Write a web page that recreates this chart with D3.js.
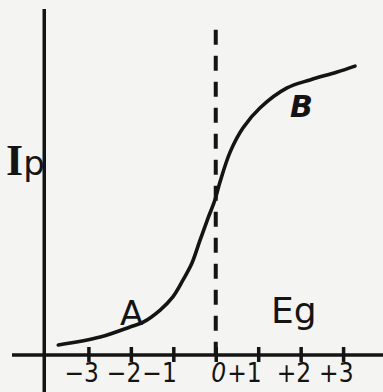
<!DOCTYPE html>
<html>
<head>
<meta charset="utf-8">
<script src="https://cdn.jsdelivr.net/npm/d3@7"></script>
<style>
  html, body { margin: 0; padding: 0; background: #f4f4f2; }
  svg { display: block; }
</style>
</head>
<body>
<svg id="chart" width="383" height="392"></svg>
<script>
// ---- data ----
const egTicks = [-3, -2, -1, 0, 1, 2, 3];
const tickLabels = ["\u22123", "\u22122", "\u22121", "0", "+1", "+2", "+3"];
const curveEg = [-3.71, -2.72, -2.02, -1.71, -1.31, -1.01, -0.77, -0.56, -0.37, -0.18, -0.02, 0.10, 0.34, 0.64, 1.04, 1.68, 2.22, 2.86, 3.28];
const curveIp = [0.29, 0.52, 0.81, 0.95, 1.30, 1.68, 2.17, 2.66, 3.32, 3.96, 4.48, 5.00, 5.87, 6.56, 7.14, 7.72, 7.95, 8.18, 8.35];
const egDomain = [-4.8, 3.94];
const ipDomain = [0, 10];
const yAxisEg = -4.04;
const yAxisBottomIp = -1.07;
const dashTopIp = 9.4;
const regionLabels = ["A", "B"];
const axisTitles = ["Ip", "Eg"];

// ---- scales ----
const x = d3.scaleLinear().domain(egDomain).range([12, 383]);
const y = d3.scaleLinear().domain(ipDomain).range([355, 9]);

const svg = d3.select("#chart");
const ink = "#141414";

// x axis line
svg.append("line")
  .attr("x1", x(egDomain[0])).attr("x2", x(egDomain[1]))
  .attr("y1", y(0)).attr("y2", y(0))
  .attr("stroke", ink).attr("stroke-width", 3.5);

// y axis line
svg.append("line")
  .attr("x1", x(yAxisEg)).attr("x2", x(yAxisEg))
  .attr("y1", y(ipDomain[1])).attr("y2", y(yAxisBottomIp))
  .attr("stroke", ink).attr("stroke-width", 3.5);

// ticks via d3 axis
const xAxis = d3.axisBottom(x).tickValues(egTicks).tickSize(7).tickFormat((d, i) => tickLabels[i]);
const gx = svg.append("g").attr("transform", `translate(0,${y(0)})`).call(xAxis);
gx.select(".domain").remove();
gx.selectAll(".tick line")
  .attr("y1", -8).attr("y2", 7)
  .attr("stroke", ink).attr("stroke-width", 3.5);
gx.selectAll(".tick text")
  .attr("y", 27).attr("dy", 0)
  .attr("text-anchor", "end")
  .attr("dx", (d) => (Math.abs(d) === 1 ? 3 : 10))
  .attr("fill", ink)
  .style("font-family", "'DejaVu Sans Condensed', 'DejaVu Sans', sans-serif")
  .style("font-size", "26px")
  .style("font-style", (d) => d === 0 ? "italic" : "normal");

// dashed vertical line at Eg = 0
svg.append("line")
  .attr("x1", x(0)).attr("x2", x(0))
  .attr("y1", y(dashTopIp)).attr("y2", y(0))
  .attr("stroke", ink).attr("stroke-width", 4)
  .attr("stroke-dasharray", "15,11");

// characteristic curve
const pts = curveEg.map((e, i) => [e, curveIp[i]]);
const line = d3.line().x(d => x(d[0])).y(d => y(d[1])).curve(d3.curveCatmullRom.alpha(0.5));
svg.append("path")
  .attr("d", line(pts))
  .attr("fill", "none")
  .attr("stroke", ink).attr("stroke-width", 3.6)
  .attr("stroke-linecap", "round");

// labels
svg.append("text").text(regionLabels[0])
  .attr("x", 120).attr("y", 325)
  .attr("fill", ink)
  .style("font-family", "'DejaVu Sans', sans-serif")
  .style("font-size", "34px");

svg.append("text").text(regionLabels[1])
  .attr("x", 290).attr("y", 117)
  .attr("fill", ink)
  .style("font-family", "'DejaVu Sans', sans-serif")
  .style("font-size", "30px").style("font-weight", "bold").style("font-style", "italic");

svg.append("text").text(axisTitles[1])
  .attr("x", 271).attr("y", 323)
  .attr("fill", ink)
  .style("font-family", "'DejaVu Sans', sans-serif")
  .style("font-size", "36px");

const ip = svg.append("text").attr("x", 6).attr("y", 175).attr("fill", ink)
  .style("font-family", "'Liberation Serif', serif").style("font-weight", "bold");
ip.append("tspan").text(axisTitles[0][0]).style("font-size", "44px");
ip.append("tspan").text(axisTitles[0][1]).style("font-size", "34px").style("font-weight", "normal").style("font-family", "'DejaVu Sans', sans-serif");
</script>
</body>
</html>
